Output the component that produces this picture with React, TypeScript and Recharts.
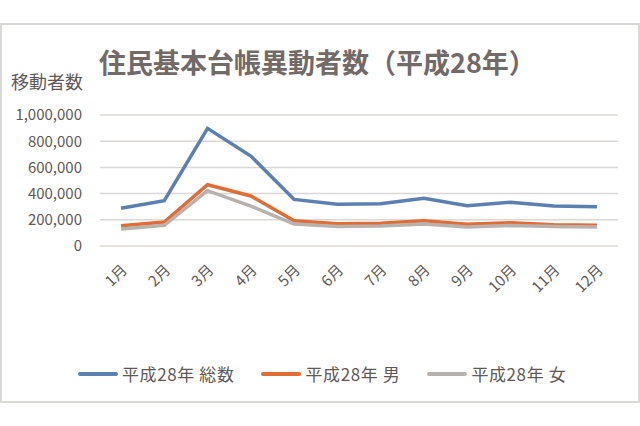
import React from 'react';
import { LineChart, Line, XAxis, YAxis, CartesianGrid } from 'recharts';

const months = ['1月', '2月', '3月', '4月', '5月', '6月', '7月', '8月', '9月', '10月', '11月', '12月'];
const totalMoves = [288000, 346000, 898000, 687000, 356000, 318000, 323000, 364000, 308000, 334000, 305000, 300000];
const maleMoves = [155000, 183000, 468000, 382000, 193000, 170000, 173000, 193000, 166000, 178000, 163000, 158000];
const femaleMoves = [130000, 158000, 422000, 305000, 168000, 149000, 153000, 168000, 145000, 156000, 149000, 145000];
const yTicks = [0, 200000, 400000, 600000, 800000, 1000000];

const series = [
  { key: 'total', name: '平成28年 総数', color: '#5b7fae' },
  { key: 'male', name: '平成28年 男', color: '#e06d36' },
  { key: 'female', name: '平成28年 女', color: '#b7b2ae' },
];

const data = months.map((m, i) => ({
  month: m,
  total: totalMoves[i],
  male: maleMoves[i],
  female: femaleMoves[i],
}));

const FONT = '"Noto Sans CJK JP", "Noto Sans", sans-serif';
const TEXT = '#5f5856';

// eslint-disable-next-line @typescript-eslint/no-explicit-any
function MonthTick({ x, y, payload }: any) {
  const ax = x + 7;
  const ay = y + 17;
  return (
    <text
      x={ax}
      y={ay}
      transform={`rotate(-45, ${ax}, ${ay})`}
      textAnchor="end"
      fontSize={15}
      fill={TEXT}
      fontFamily={FONT}
    >
      {payload.value}
    </text>
  );
}

export default function App() {
  return (
    <div style={{ position: 'absolute', left: 0, top: 0, width: 640, height: 426, background: '#fff', fontFamily: FONT }}>
      <div style={{
        position: 'absolute', left: 0, top: 23, width: 640, height: 380,
        boxSizing: 'border-box', border: '2px solid #dcd8d5',
      }} />
      <div style={{
        position: 'absolute', left: 99, top: 40, fontSize: 27, fontWeight: 700,
        color: '#716a68', whiteSpace: 'nowrap', lineHeight: '44px',
      }}>
        住民基本台帳異動者数（平成28年）
      </div>
      <div style={{
        position: 'absolute', left: 11, top: 68, fontSize: 18, color: TEXT,
        whiteSpace: 'nowrap', lineHeight: '26px',
      }}>
        移動者数
      </div>

      <div style={{ position: 'absolute', left: 0, top: 0 }}>
        <LineChart width={640} height={426} data={data} margin={{ top: 115, right: 22, bottom: 140, left: 10 }}>
          <CartesianGrid vertical={false} stroke="#dcd8d5" strokeWidth={1.5} />
          <XAxis
            dataKey="month"
            axisLine={false}
            tickLine={false}
            interval={0}
            height={40}
            padding={{ left: 21, right: 21 }}
            tick={<MonthTick />}
          />
          <YAxis
            width={90}
            domain={[0, 1000000]}
            ticks={yTicks}
            axisLine={false}
            tickLine={false}
            tickMargin={12}
            tickFormatter={(v: number) => v.toLocaleString('en-US')}
            tick={{ fontSize: 15, fill: TEXT, fontFamily: FONT }}
          />
          {series.map((s) => (
            <Line
              key={s.key}
              type="linear"
              dataKey={s.key}
              name={s.name}
              stroke={s.color}
              strokeWidth={3.5}
              dot={false}
              isAnimationActive={false}
            />
          ))}
        </LineChart>
      </div>

      <div style={{
        position: 'absolute', left: 78, top: 363, display: 'flex', alignItems: 'center',
        fontSize: 17, letterSpacing: 0.6, color: TEXT, whiteSpace: 'nowrap', lineHeight: '22px',
      }}>
        {series.map((s) => (
          <div key={s.key} style={{ display: 'flex', alignItems: 'center', marginRight: 27 }}>
            <span style={{ display: 'inline-block', width: 40, height: 4, background: s.color, borderRadius: 2, marginRight: 4 }} />
            <span>{s.name}</span>
          </div>
        ))}
      </div>
    </div>
  );
}
